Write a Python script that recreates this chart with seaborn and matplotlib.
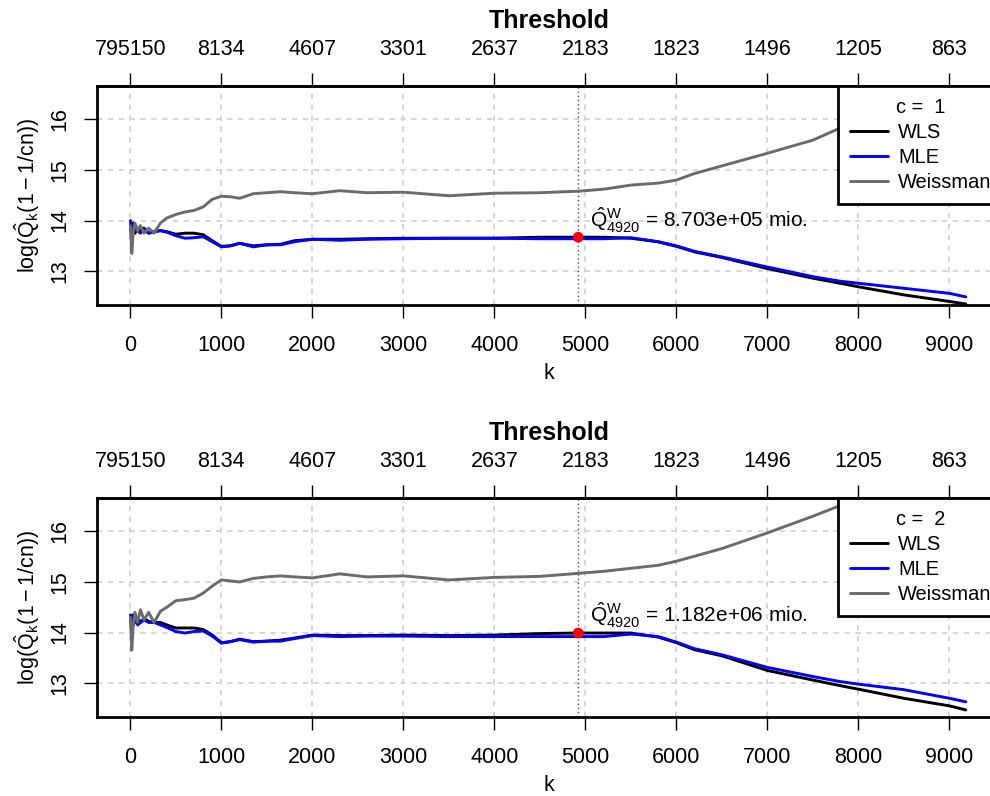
import numpy as np
import pandas as pd
import matplotlib
matplotlib.use("Agg")
import matplotlib.pyplot as plt
import seaborn as sns
from matplotlib.lines import Line2D

# ---------------- data ----------------
K = [1, 15, 30, 50, 80, 110, 150, 200, 260, 330, 400, 500, 600, 700, 800, 900,
     1000, 1100, 1200, 1350, 1500, 1650, 1800, 2000, 2300, 2600, 3000, 3500,
     4000, 4500, 4920, 5200, 5500, 5800, 6000, 6200, 6500, 7000, 7500, 7800,
     8000, 8500, 9000, 9180]

wls_c1 = [13.90, 13.70, 13.95, 13.75, 13.85, 13.80, 13.85, 13.75, 13.78, 13.80, 13.78,
          13.73, 13.75, 13.75, 13.72, 13.60, 13.49, 13.50, 13.55, 13.50, 13.52, 13.53,
          13.60, 13.63, 13.63, 13.64, 13.65, 13.65, 13.65, 13.67, 13.67, 13.67, 13.65,
          13.58, 13.49, 13.38, 13.27, 13.05, 12.86, 12.76, 12.69, 12.53, 12.40, 12.35]
mle_c1 = [14.00, 13.50, 13.90, 13.80, 13.80, 13.75, 13.82, 13.75, 13.78, 13.80, 13.77,
          13.70, 13.65, 13.66, 13.68, 13.58, 13.48, 13.50, 13.55, 13.48, 13.52, 13.52,
          13.58, 13.63, 13.61, 13.63, 13.64, 13.65, 13.65, 13.64, 13.64, 13.64, 13.66,
          13.58, 13.50, 13.39, 13.28, 13.08, 12.89, 12.80, 12.76, 12.66, 12.56, 12.49]
weis_c1 = [13.90, 13.35, 13.75, 13.95, 13.80, 13.90, 13.75, 13.85, 13.75, 13.95, 14.05,
           14.12, 14.17, 14.20, 14.27, 14.42, 14.48, 14.47, 14.44, 14.53, 14.55, 14.57,
           14.55, 14.53, 14.59, 14.55, 14.56, 14.49, 14.54, 14.55, 14.58, 14.62, 14.70,
           14.74, 14.80, 14.93, 15.08, 15.33, 15.59, 15.83, 15.95, 16.10, 16.30, 16.35]

wls_c2 = [14.30, 14.00, 14.35, 14.20, 14.30, 14.20, 14.28, 14.22, 14.20, 14.20, 14.15,
          14.09, 14.09, 14.09, 14.06, 13.95, 13.80, 13.82, 13.87, 13.82, 13.83, 13.85,
          13.89, 13.95, 13.94, 13.94, 13.95, 13.94, 13.95, 13.98, 13.99, 13.99, 13.99,
          13.91, 13.80, 13.66, 13.54, 13.25, 13.06, 12.95, 12.88, 12.70, 12.55, 12.47]
mle_c2 = [14.35, 14.30, 14.20, 14.25, 14.15, 14.20, 14.25, 14.20, 14.20, 14.15, 14.10,
          14.02, 13.99, 14.02, 14.03, 13.93, 13.79, 13.82, 13.86, 13.81, 13.83, 13.83,
          13.88, 13.94, 13.92, 13.93, 13.93, 13.92, 13.92, 13.92, 13.92, 13.92, 13.97,
          13.92, 13.81, 13.68, 13.56, 13.31, 13.13, 13.03, 12.98, 12.87, 12.70, 12.63]
weis_c2 = [14.30, 13.65, 14.10, 14.40, 14.20, 14.45, 14.25, 14.40, 14.20, 14.42, 14.50,
           14.63, 14.65, 14.68, 14.78, 14.92, 15.04, 15.02, 15.00, 15.07, 15.10, 15.12,
           15.10, 15.08, 15.16, 15.10, 15.12, 15.04, 15.09, 15.11, 15.17, 15.21, 15.27,
           15.33, 15.41, 15.51, 15.66, 15.97, 16.30, 16.51, 16.62, 16.90, 17.20, 17.30]

k_ticks = [0, 1000, 2000, 3000, 4000, 5000, 6000, 7000, 8000, 9000]
threshold_labels = ["795150", "8134", "4607", "3301", "2637", "2183", "1823", "1496", "1205", "863"]
y_ticks = [13, 14, 15, 16]
k_selected = 4920
q_values = ["8.703e+05", "1.182e+06"]
c_values = [1, 2]
estimators = ["WLS", "MLE", "Weissman"]
colors = {"WLS": "#000000", "MLE": "#0000FF", "Weissman": "#6B6B6B"}

# ---------------- style ----------------
sns.set_style("white")
plt.rcParams["font.family"] = ["Liberation Sans", "DejaVu Sans"]
plt.rcParams["mathtext.fontset"] = "custom"
plt.rcParams["mathtext.rm"] = "Liberation Sans"
plt.rcParams["mathtext.it"] = "Liberation Sans"
plt.rcParams["mathtext.bf"] = "Liberation Sans:bold"
for key in ["text.color", "axes.labelcolor", "xtick.color", "ytick.color"]:
    plt.rcParams[key] = "black"

fig = plt.figure(figsize=(9.9, 7.96), dpi=100)
W, H = 990.0, 796.0
ax1 = fig.add_axes([97 / W, 1 - 305 / H, 904 / W, 219 / H])
ax2 = fig.add_axes([97 / W, 1 - 717 / H, 904 / W, 219 / H])

FS = 15.5


def draw(ax, wls, mle, weis, c, qtxt):
    n = len(K)
    df = pd.DataFrame({
        "k": K * 3,
        "value": wls + mle + weis,
        "estimator": ["WLS"] * n + ["MLE"] * n + ["Weissman"] * n,
    })
    ax.set_xlim(-367, 9567)
    ax.set_ylim(12.33, 16.66)
    ax.set_xticks(k_ticks)
    ax.set_yticks(y_ticks)
    ax.grid(True, color="#D3D3D3", linestyle=(0, (3, 3)), linewidth=1.3)
    ax.set_axisbelow(True)
    sns.lineplot(data=df, x="k", y="value", hue="estimator", hue_order=estimators,
                 palette=colors, estimator=None, sort=False, linewidth=2.1,
                 legend=False, ax=ax, zorder=3)
    ax.axvline(k_selected, color="#505050", linestyle=(0, (1, 2)), linewidth=1, zorder=2)
    sel_val = wls[K.index(k_selected)]
    ax.scatter([k_selected], [sel_val], color="red", s=60, zorder=5, edgecolor="none")
    ax.text(k_selected + 130, sel_val + 0.34,
            r"$\hat{Q}^{W}_{4920}$ = " + qtxt + " mio.", fontsize=15,
            ha="left", va="center", zorder=6)

    for s in ax.spines.values():
        s.set_linewidth(2)
        s.set_color("black")
    ax.tick_params(axis="both", which="both", direction="out", length=9.4, width=1,
                   color="black", labelcolor="black", labelsize=FS, bottom=True, left=True)
    ax.tick_params(axis="x", pad=12)
    ax.tick_params(axis="y", pad=10, labelrotation=90)
    for lab in ax.get_yticklabels():
        lab.set_va("center")
    ax.set_xlabel("k", fontsize=FS, labelpad=5)
    ax.set_ylabel(r"$\mathrm{log}(\hat{Q}_{k}(1-1/cn))$", fontsize=FS, labelpad=5)

    sec = ax.secondary_xaxis("top")
    sec.set_xticks(k_ticks, labels=threshold_labels)
    sec.tick_params(direction="out", length=9.4, width=1, labelsize=FS, pad=9,
                    color="black", labelcolor="black")
    sec.spines["top"].set_linewidth(2)
    sec.set_xlabel("Threshold", fontsize=18, fontweight="bold", labelpad=8)

    handles = [Line2D([0], [0], color=colors[e], linewidth=2.1) for e in estimators]
    leg = ax.legend(handles, estimators, title=f"c =  {c}", loc="upper left",
                    bbox_to_anchor=((838 - 97) / 904, 1.0), fontsize=14.4,
                    title_fontsize=14.4, frameon=True, fancybox=False,
                    framealpha=1, edgecolor="black", borderaxespad=0,
                    handlelength=1.9, handletextpad=0.5, labelspacing=0.3,
                    borderpad=0.6)
    leg.get_frame().set_linewidth(2)
    leg.set_zorder(10)


draw(ax1, wls_c1, mle_c1, weis_c1, c_values[0], q_values[0])
draw(ax2, wls_c2, mle_c2, weis_c2, c_values[1], q_values[1])

fig.savefig("out.png", dpi=100)
